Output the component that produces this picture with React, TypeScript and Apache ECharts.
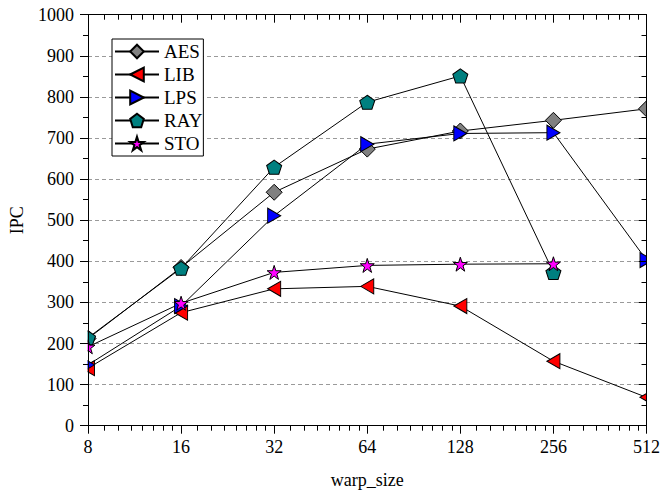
import React, { useEffect, useRef } from "react";
import * as echarts from "echarts";

const warpSizes = [8, 16, 32, 64, 128, 256, 512];
const aes = [212, 385, 568, 673, 717, 743, 771];
const lib = [140, 275, 333, 339, 291, 157, 69];
const lps = [148, 291, 511, 685, 711, 713, 403];
const ray = [214, 383, 629, 787, 851, 373, null];
const sto = [192, 298, 373, 390, 393, 394, null];
const yTicks = [0, 1000, 100];

const FONT = "'Liberation Serif', 'Times New Roman', serif";

const PENTAGON = "path://M0,-1L0.951,-0.309L0.588,0.809L-0.588,0.809L-0.951,-0.309Z";
const STAR =
  "path://M0,-1L0.2245,-0.309L0.951,-0.309L0.363,0.118L0.588,0.809L0,0.382L-0.588,0.809L-0.363,0.118L-0.951,-0.309L-0.2245,-0.309Z";

// log-scale minor tick positions between the powers of two
const minorTicks: number[] = [];
for (let i = 0; i < warpSizes.length - 1; i++) {
  for (let k = 9; k <= 15; k++) minorTicks.push(Math.log2((warpSizes[i] * k) / 8));
}

function pts(vals: (number | null)[]) {
  const out: number[][] = [];
  vals.forEach((v, i) => {
    if (v !== null) out.push([Math.log2(warpSizes[i]), v]);
  });
  return out;
}

export default function App() {
  const ref = useRef<HTMLDivElement>(null);
  useEffect(() => {
    document.body.style.margin = "0";
    const chart = echarts.init(ref.current!, null, { renderer: "svg" });
    const xmin = Math.log2(warpSizes[0]);
    const xmax = Math.log2(warpSizes[warpSizes.length - 1]);
    const mk = (name: string, data: (number | null)[], symbol: string, size: any, color: string, rotate = 0) => ({
      name,
      type: "line",
      data: pts(data),
      symbol,
      symbolSize: size,
      symbolRotate: rotate,
      showSymbol: true,
      clip: false,
      z: 2,
      lineStyle: { color: "#000", width: 1 },
      itemStyle: { color, borderColor: "#000", borderWidth: 1, opacity: 1 },
      emphasis: { disabled: true },
    });
    const baseX = {
      type: "value",
      min: xmin,
      max: xmax,
      interval: 1,
      z: 10,
      axisLine: { show: true, onZero: false, lineStyle: { color: "#000", width: 1 } },
      splitLine: { show: false },
    };
    const baseY = {
      type: "value",
      min: yTicks[0],
      max: yTicks[1],
      interval: yTicks[2],
      z: 10,
      axisLine: { show: true, onZero: false, lineStyle: { color: "#000", width: 1 } },
      splitLine: { show: false },
      minorTick: { show: true, splitNumber: 2, length: 5, lineStyle: { color: "#000" } },
    };
    chart.setOption({
      animation: false,
      backgroundColor: "#fff",
      textStyle: { fontFamily: FONT, color: "#000" },
      grid: { left: 86, right: 15.5, top: 14.7, bottom: 68.3, containLabel: false },
      legend: {
        data: ["AES", "LIB", "LPS", "RAY", "STO"],
        orient: "vertical",
        left: 112,
        top: 39,
        padding: [3, 1, 3, 2],
        itemWidth: 44,
        itemHeight: 17,
        itemGap: 4,
        borderColor: "#000",
        borderWidth: 1,
        backgroundColor: "#fff",
        textStyle: { fontFamily: FONT, fontSize: 19, color: "#000" },
        z: 20,
      },
      xAxis: [
        {
          ...baseX,
          position: "bottom",
          name: "warp_size",
          nameLocation: "middle",
          nameGap: 45,
          nameTextStyle: { fontFamily: FONT, fontSize: 18, color: "#000" },
          axisTick: { show: true, inside: false, length: 8, lineStyle: { color: "#000" } },
          axisLabel: {
            fontFamily: FONT,
            fontSize: 18,
            color: "#000",
            margin: 12,
            formatter: (v: number) => String(Math.round(Math.pow(2, v))),
          },
        },
        {
          ...baseX,
          position: "top",
          axisTick: { show: true, inside: true, length: 8, lineStyle: { color: "#000" } },
          axisLabel: { show: false },
        },
      ],
      yAxis: [
        {
          ...baseY,
          position: "left",
          name: "IPC",
          nameLocation: "middle",
          nameGap: 62,
          nameTextStyle: { fontFamily: FONT, fontSize: 18, color: "#000" },
          axisTick: { show: true, inside: false, length: 8, lineStyle: { color: "#000" } },
          axisLabel: {
            fontFamily: FONT,
            fontSize: 18,
            color: "#000",
            margin: 14,
            formatter: (v: number) => String(v),
          },
        },
        {
          ...baseY,
          position: "right",
          axisTick: { show: true, inside: true, length: 8, lineStyle: { color: "#000" } },
          axisLabel: { show: false },
        },
        {
          type: "value",
          min: yTicks[0],
          max: yTicks[1],
          interval: yTicks[2],
          z: 0,
          position: "left",
          axisLine: { show: false },
          axisTick: { show: false },
          axisLabel: { show: false },
          splitLine: { show: true, lineStyle: { color: "#9a9a9a", width: 1, type: [4, 3] } },
        },
      ],
      series: [
        mk("AES", aes, "diamond", 16, "#808080"),
        mk("LIB", lib, "triangle", [15, 13], "#ff0000", 90),
        mk("LPS", lps, "triangle", [15, 13], "#0000ff", -90),
        mk("RAY", ray, PENTAGON, [15, 14], "#008080"),
        mk("STO", sto, STAR, [14, 14], "#ff00ff"),
        {
          // white masks that clip the markers at the frame edges
          name: "frameMask",
          type: "custom",
          silent: true,
          clip: false,
          z: 5,
          data: [[xmin, yTicks[0]]],
          encode: { x: 0, y: 1 },
          renderItem: (_p: any, api: any) => {
            const l = api.coord([xmin, yTicks[0]]);
            const r = api.coord([xmax, yTicks[1]]);
            const W = api.getWidth();
            const H = api.getHeight();
            return {
              type: "group",
              children: [
                { type: "rect", shape: { x: 0, y: 0, width: l[0] - 0.5, height: H }, style: { fill: "#fff" } },
                { type: "rect", shape: { x: r[0] + 0.5, y: 0, width: W - r[0], height: H }, style: { fill: "#fff" } },
              ],
            };
          },
        },
        {
          name: "minorTicks",
          type: "custom",
          silent: true,
          clip: false,
          z: 12,
          data: minorTicks.map((v) => [v]),
          encode: { x: 0 },
          renderItem: (_p: any, api: any) => {
            const v = api.value(0);
            const b = api.coord([v, yTicks[0]]);
            const t = api.coord([v, yTicks[1]]);
            const x = Math.round(b[0]) + 0.5;
            return {
              type: "group",
              children: [
                { type: "line", shape: { x1: x, y1: b[1], x2: x, y2: b[1] + 5 }, style: { stroke: "#000", lineWidth: 1 } },
                { type: "line", shape: { x1: x, y1: t[1], x2: x, y2: t[1] + 5 }, style: { stroke: "#000", lineWidth: 1 } },
              ],
            };
          },
        },
      ],
    });
    return () => chart.dispose();
  }, []);
  return <div ref={ref} style={{ width: 663, height: 494 }} />;
}
